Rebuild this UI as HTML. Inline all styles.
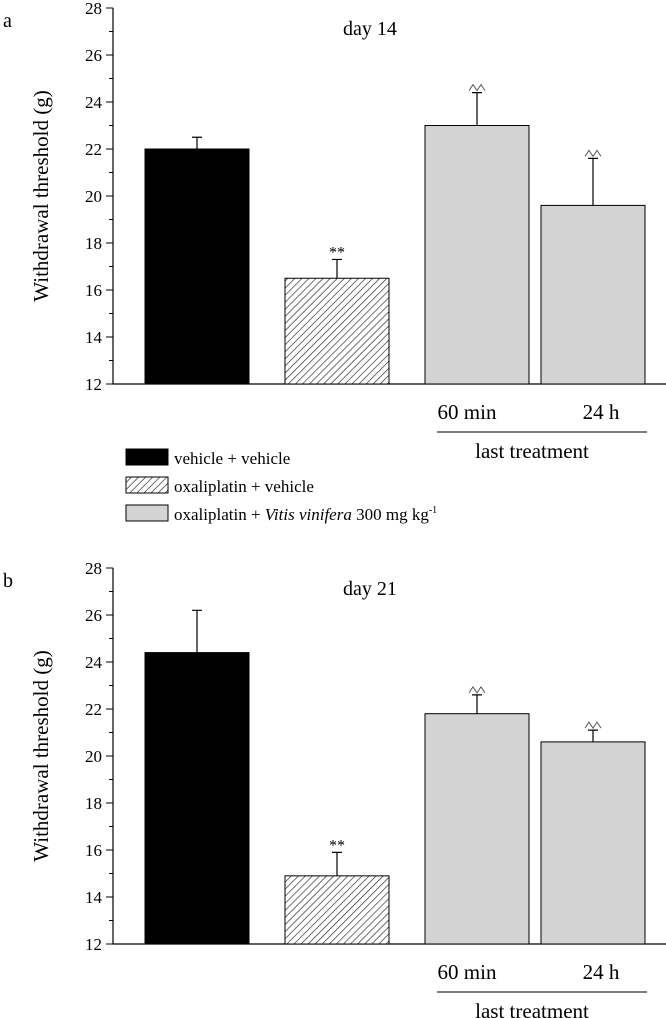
<!DOCTYPE html>
<html><head><meta charset="utf-8"><style>
body{margin:0;background:#fff;}
svg{display:block;font-family:"Liberation Serif",serif;}
</style></head><body>
<svg id="c" width="666" height="1018" viewBox="0 0 666 1018">
<defs><pattern id="hatch" patternUnits="userSpaceOnUse" width="5" height="5" patternTransform="rotate(45)"><rect width="5" height="5" fill="#fff"/><line x1="0" y1="0" x2="0" y2="5" stroke="#222" stroke-width="1.3"/></pattern></defs>
</svg>
<script>
const categories=["vehicle + vehicle","oxaliplatin + vehicle","Vitis 60 min","Vitis 24 h"];
const valuesA=[22,16.5,23,19.6];
const errorsA=[0.5,0.8,1.4,2.0];
const marksA=["","**","^^","^^"];
const valuesB=[24.4,14.9,21.8,20.6];
const errorsB=[1.8,1.0,0.8,0.5];
const marksB=["","**","^^","^^"];
const yTicks=[12,14,16,18,20,22,24,26,28];
const svg=document.getElementById('c');
const NS='http://www.w3.org/2000/svg';
function mk(t,a,p){const e=document.createElementNS(NS,t);for(const k in a)e.setAttribute(k,a[k]);(p||svg).appendChild(e);return e;}
const fills=["#000","url(#hatch)","#d3d3d3","#d3d3d3"];
const barX=[145,285,425,541],barW=104;
function panel(top,vals,errs,marks,label,title,pname){
  const g=mk('g',{});
  
  
  const bot=top+376;
  const y=v=>bot-(v-12)*23.5;
  mk('line',{x1:113,y1:top,x2:113,y2:bot,stroke:'#000','stroke-width':1.2},g);
  const xa=mk('line',{x1:113,y1:bot,x2:666,y2:bot,stroke:'#000','stroke-width':1.2},g);
  
  
  for(let v=12;v<=28;v+=1){const major=v%2===0;mk('line',{x1:major?106:109,y1:y(v),x2:113,y2:y(v),stroke:'#000','stroke-width':1},g);}
  yTicks.forEach(v=>{const t=mk('text',{x:102,y:y(v)+6,'text-anchor':'end','font-size':17},g);t.textContent=v;
    
    });
  const yt=mk('text',{x:0,y:0,transform:`translate(48,${(top+bot)/2}) rotate(-90)`,'text-anchor':'middle','font-size':21},g);
  yt.textContent='Withdrawal threshold (g)';
  
  
  const tt=mk('text',{x:370,y:top+27,'text-anchor':'middle','font-size':20},g);tt.textContent=title;
  
  
  const pl=mk('text',{x:3,y:top+19,'font-size':20},g);pl.textContent=label;
  
  
  vals.forEach((v,i)=>{
    const b=mk('rect',{x:barX[i],y:y(v),width:barW,height:bot-y(v),fill:fills[i],stroke:'#000','stroke-width':1},g);
    
    
    const cx=barX[i]+barW/2,ey=y(v+errs[i]);
    const e=mk('path',{d:`M${cx},${y(v)}V${ey}M${cx-5},${ey}H${cx+5}`,stroke:'#000','stroke-width':1.2,fill:'none'},g);
    
    
    if(marks[i]==='**'){const m=mk('text',{x:cx,y:ey-2,'text-anchor':'middle','font-size':16},g);m.textContent='**';
      
      }
    else if(marks[i]){const m=mk('path',{d:`M${cx-8},${ey-2}l4,-6l4,6l4,-6l4,6`,stroke:'#555','stroke-width':1,fill:'none'},g);
      
      }
  });
  const t1=mk('text',{x:467,y:bot+35,'text-anchor':'middle','font-size':21},g);t1.textContent='60 min';
  
  
  const t2=mk('text',{x:601,y:bot+35,'text-anchor':'middle','font-size':21},g);t2.textContent='24 h';
  
  
  mk('line',{x1:437,y1:bot+48,x2:647,y2:bot+48,stroke:'#000','stroke-width':1},g);
  const t3=mk('text',{x:532,y:bot+74,'text-anchor':'middle','font-size':21},g);t3.textContent='last treatment';
  
  
}
panel(8,valuesA,errorsA,marksA,'a','day 14','panel-a');
panel(568,valuesB,errorsB,marksB,'b','day 21','panel-b');
const lg=mk('g',{});


const legendY=[449,477,505];
const legendText=['vehicle + vehicle','oxaliplatin + vehicle',null];
legendY.forEach((ly,i)=>{
  const r=mk('rect',{x:126,y:ly,width:42,height:16,fill:fills[i],stroke:'#000','stroke-width':1},lg);
  
  
  const t=mk('text',{x:174,y:ly+15,'font-size':17},lg);
  
  
  if(legendText[i])t.textContent=legendText[i];
  else t.innerHTML='oxaliplatin + <tspan font-style="italic">Vitis vinifera</tspan> 300 mg kg<tspan dy="-7" font-size="10">-1</tspan>';
});
</script>
</body></html>
